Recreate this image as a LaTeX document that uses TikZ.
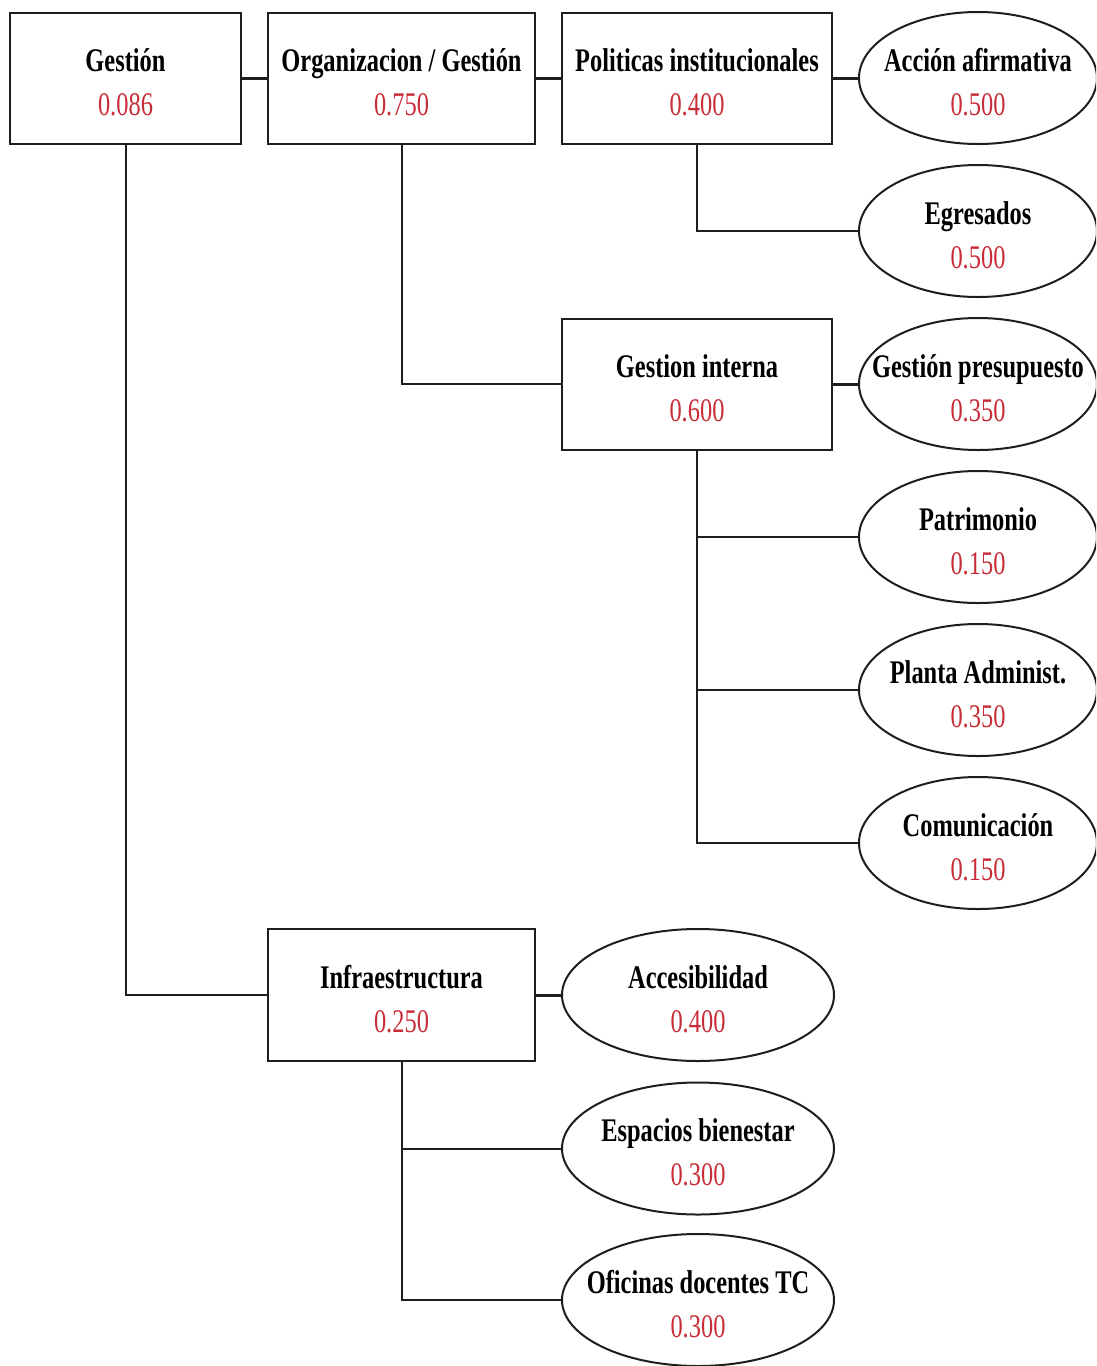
\documentclass[tikz,border=0pt]{standalone}
\usepackage{fontspec}
\setmainfont[FakeStretch=0.74]{Liberation Serif}
\usetikzlibrary{shapes.geometric}
\definecolor{numred}{RGB}{200,45,55}
\definecolor{ink}{RGB}{30,30,30}
\newcommand\twol[2]{\makebox[0pt]{\rule{0pt}{32pt}\textbf{#1}}\\\makebox[0pt]{\textcolor{numred}{#2}\rule[-2pt]{0pt}{2pt}}}
\tikzset{
  every node/.style={font=\fontsize{33}{44}\selectfont, align=center, inner sep=0pt},
  boxn/.style={draw=ink, line width=2pt, rectangle, minimum height=131pt},
  oval/.style={draw=ink, line width=2pt, ellipse, minimum width=238pt, minimum height=132pt},
  ovalw/.style={oval, minimum width=272pt},
  conn/.style={draw=ink, line width=2pt},
  link/.style={draw=ink, line width=3pt},
}
\begin{document}
\begin{tikzpicture}[x=1pt, y=-1pt]
\useasboundingbox (0,0) rectangle (1096,1366);
\clip (0,0) rectangle (1096,1366);
% boxes
\node[boxn, minimum width=231pt] (g) at (125.5,78) {\twol{Gestión}{0.086}};
\node[boxn, minimum width=267pt] (org) at (401.5,78) {\twol{Organizacion / Gestión}{0.750}};
\node[boxn, minimum width=270pt] (pol) at (697,78) {\twol{Politicas institucionales}{0.400}};
\node[boxn, minimum width=270pt] (gi) at (697,384) {\twol{Gestion interna}{0.600}};
\node[boxn, minimum width=267pt, minimum height=132pt] (inf) at (401.5,995) {\twol{Infraestructura}{0.250}};
% ellipses right column
\node[oval] (acc) at (978,78) {\twol{Acción afirmativa}{0.500}};
\node[oval] (egr) at (978,231) {\twol{Egresados}{0.500}};
\node[oval] (gp) at (978,384) {\twol{Gestión presupuesto}{0.350}};
\node[oval] (pat) at (978,537) {\twol{Patrimonio}{0.150}};
\node[oval] (pla) at (978,690) {\twol{Planta Administ.}{0.350}};
\node[oval] (com) at (978,843) {\twol{Comunicación}{0.150}};
% ellipses lower column
\node[ovalw] (acce) at (698,995) {\twol{Accesibilidad}{0.400}};
\node[ovalw] (esp) at (698,1148.5) {\twol{Espacios bienestar}{0.300}};
\node[ovalw] (ofi) at (698,1300) {\twol{Oficinas docentes TC}{0.300}};
% connectors
\draw[link] (g.east) -- (org.west);
\draw[link] (org.east) -- (pol.west);
\draw[link] (pol.east) -- (acc.west);
\draw[link] (gi.east) -- (gp.west);
\draw[link] (inf.east) -- (acce.west);
\draw[conn] (pol.south) |- (egr.west);
\draw[conn] (org.south) |- (gi.west);
\draw[conn] (gi.south) |- (pat.west);
\draw[conn] (gi.south) |- (pla.west);
\draw[conn] (gi.south) |- (com.west);
\draw[conn] (g.south) |- (inf.west);
\draw[conn] (inf.south) |- (esp.west);
\draw[conn] (inf.south) |- (ofi.west);
\end{tikzpicture}
\end{document}
